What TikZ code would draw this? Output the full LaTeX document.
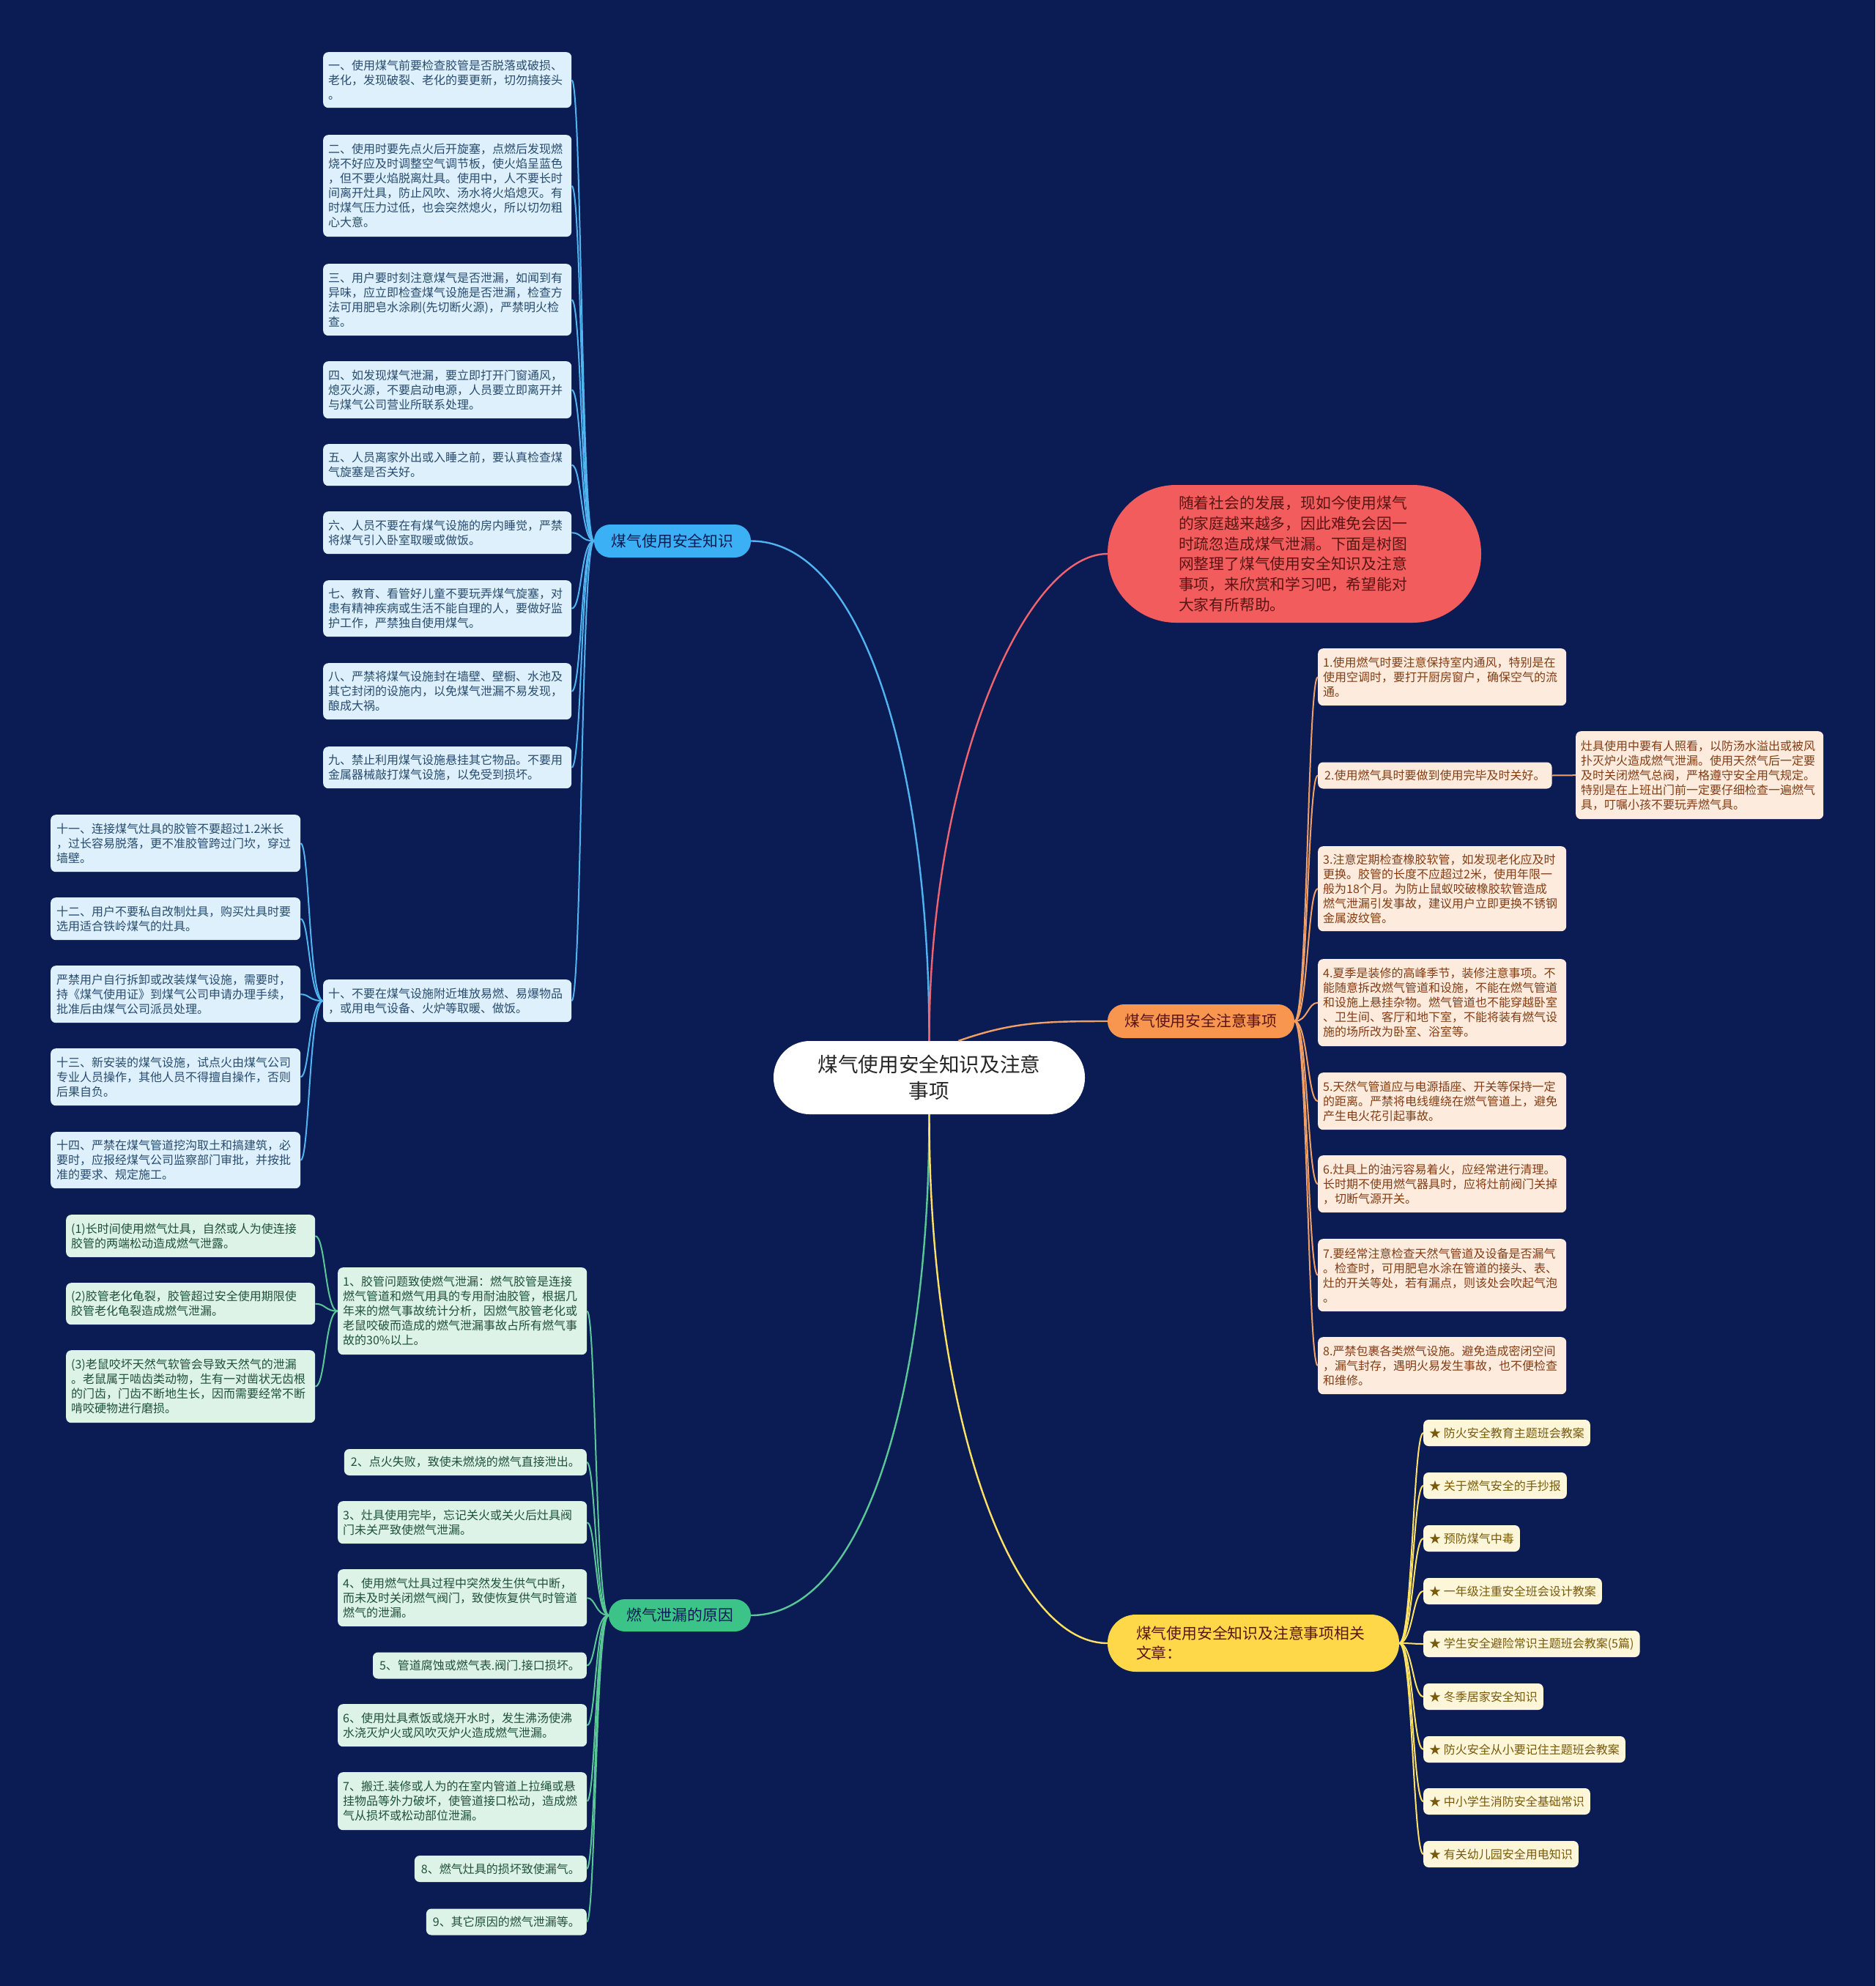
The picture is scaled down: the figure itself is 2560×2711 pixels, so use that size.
\documentclass[tikz,border=0pt]{standalone}
\usepackage{fontspec}
\newfontfamily\cjk{Noto Sans CJK SC}
\newcommand\leaffont{\cjk\fontsize{16}{20}\selectfont}
\newcommand\branchfont{\cjk\fontsize{20.8}{27.7}\selectfont}
\newcommand\centerfont{\cjk\fontsize{27.6}{36}\selectfont}
\definecolor{bgc}{RGB}{11,28,84}
\definecolor{bpill}{RGB}{60,176,245}
\definecolor{bline}{RGB}{80,180,240}
\definecolor{bfill}{RGB}{221,240,252}
\definecolor{btext}{RGB}{40,75,110}
\definecolor{rpill}{RGB}{242,92,92}
\definecolor{rline}{RGB}{240,100,110}
\definecolor{rtext}{RGB}{90,20,20}
\definecolor{opill}{RGB}{248,150,80}
\definecolor{oline}{RGB}{240,160,100}
\definecolor{ofill}{RGB}{253,236,222}
\definecolor{otext}{RGB}{130,60,20}
\definecolor{ypill}{RGB}{255,216,74}
\definecolor{yline}{RGB}{255,225,100}
\definecolor{yfill}{RGB}{253,246,216}
\definecolor{ytext}{RGB}{120,90,10}
\definecolor{gpill}{RGB}{60,196,136}
\definecolor{gline}{RGB}{90,200,150}
\definecolor{gfill}{RGB}{222,243,232}
\definecolor{gtext}{RGB}{30,80,60}
\tikzset{
  leafbase/.style={rectangle, rounded corners=7pt, inner ysep=0pt, align=left, font=\leaffont},
  multi/.style={anchor=north west, text width=325pt, inner xsep=7pt},
  single/.style={inner xsep=9pt, minimum height=36pt},
  bleaf/.style={leafbase, fill=bfill, text=btext},
  oleaf/.style={leafbase, fill=ofill, text=otext},
  gleaf/.style={leafbase, fill=gfill, text=gtext},
  yleaf/.style={leafbase, fill=yfill, text=ytext, single, anchor=west, inner xsep=8pt},
  pill/.style={rectangle, inner sep=0pt, font=\branchfont, align=center},
  blink/.style={draw=bline, line width=2pt},
  rlink/.style={draw=rline, line width=2.4pt},
  olink/.style={draw=oline, line width=2pt},
  ylink/.style={draw=yline, line width=2pt},
  glink/.style={draw=gline, line width=2pt},
}
\begin{document}
\begin{tikzpicture}[x=1pt,y=-1pt]
\useasboundingbox (0,0) rectangle (2560,2711);
\fill[bgc] (0,0) rectangle (2560,2711);

% ---------- center ----------
\node[rectangle, fill=white, rounded corners=49.5pt, minimum width=425pt, minimum height=100pt, inner sep=0pt, font=\centerfont, text=black!85, align=center] (C) at (1268.5,1471) {煤气使用安全知识及注意\\事项};

% ---------- branches ----------
\node[pill, fill=bpill, text=bgc, rounded corners=22pt, minimum width=214pt, minimum height=45pt] (B) at (918,738.5) {煤气使用安全知识};
\node[pill, fill=rpill, text=rtext, rounded corners=93.5pt, minimum width=510pt, minimum height=188pt, align=left, text width=316pt, inner xsep=97pt] (R) at (1767,756) {随着社会的发展，现如今使用煤气\\的家庭越来越多，因此难免会因一\\时疏忽造成煤气泄漏。下面是树图\\网整理了煤气使用安全知识及注意\\事项，来欣赏和学习吧，希望能对\\大家有所帮助。};
\node[pill, fill=opill, text=rtext, rounded corners=22.5pt, minimum width=255pt, minimum height=46pt] (O) at (1639.5,1394) {煤气使用安全注意事项};
\node[pill, fill=ypill, text=rtext, rounded corners=38.5pt, minimum height=78pt, align=left, text width=320pt, inner xsep=39pt] (Y) at (1711,2243) {煤气使用安全知识及注意事项相关\\文章：};
\node[pill, fill=gpill, text=bgc, rounded corners=22pt, minimum width=194pt, minimum height=44pt] (G) at (928,2205) {燃气泄漏的原因};

% ---------- blue leaves ----------
\node[bleaf, multi, minimum height=76pt] (L1) at (441,71) {一、使用煤气前要检查胶管是否脱落或破损、\\老化，发现破裂、老化的要更新，切勿搞接头\\。};
\node[bleaf, multi, minimum height=139pt] (L2) at (441,184) {二、使用时要先点火后开旋塞，点燃后发现燃\\烧不好应及时调整空气调节板，使火焰呈蓝色\\，但不要火焰脱离灶具。使用中，人不要长时\\间离开灶具，防止风吹、汤水将火焰熄灭。有\\时煤气压力过低，也会突然熄火，所以切勿粗\\心大意。};
\node[bleaf, multi, minimum height=98pt] (L3) at (441,360) {三、用户要时刻注意煤气是否泄漏，如闻到有\\异味，应立即检查煤气设施是否泄漏，检查方\\法可用肥皂水涂刷(先切断火源)，严禁明火检\\查。};
\node[bleaf, multi, minimum height=78pt] (L4) at (441,493) {四、如发现煤气泄漏，要立即打开门窗通风，\\熄灭火源，不要启动电源，人员要立即离开并\\与煤气公司营业所联系处理。};
\node[bleaf, multi, minimum height=57pt] (L5) at (441,606) {五、人员离家外出或入睡之前，要认真检查煤\\气旋塞是否关好。};
\node[bleaf, multi, minimum height=58pt] (L6) at (441,698) {六、人员不要在有煤气设施的房内睡觉，严禁\\将煤气引入卧室取暖或做饭。};
\node[bleaf, multi, minimum height=77pt] (L7) at (441,792) {七、教育、看管好儿童不要玩弄煤气旋塞，对\\患有精神疾病或生活不能自理的人，要做好监\\护工作，严禁独自使用煤气。};
\node[bleaf, multi, minimum height=77pt] (L8) at (441,905) {八、严禁将煤气设施封在墙壁、壁橱、水池及\\其它封闭的设施内，以免煤气泄漏不易发现，\\酿成大祸。};
\node[bleaf, multi, minimum height=57pt] (L9) at (441,1019) {九、禁止利用煤气设施悬挂其它物品。不要用\\金属器械敲打煤气设施，以免受到损坏。};
\node[bleaf, multi, minimum height=58pt] (L10) at (441,1337) {十、不要在煤气设施附近堆放易燃、易爆物品\\，或用电气设备、火炉等取暖、做饭。};

% ---------- far-left blue leaves ----------
\node[bleaf, multi, inner xsep=8pt, minimum height=78pt] (C1) at (69,1112) {十一、连接煤气灶具的胶管不要超过1.2米长\\，过长容易脱落，更不准胶管跨过门坎，穿过\\墙壁。};
\node[bleaf, multi, inner xsep=8pt, minimum height=58pt] (C2) at (69,1225) {十二、用户不要私自改制灶具，购买灶具时要\\选用适合铁岭煤气的灶具。};
\node[bleaf, multi, inner xsep=8pt, minimum height=78pt] (C3) at (69,1318) {严禁用户自行拆卸或改装煤气设施，需要时，\\持《煤气使用证》到煤气公司申请办理手续，\\批准后由煤气公司派员处理。};
\node[bleaf, multi, inner xsep=8pt, minimum height=78pt] (C4) at (69,1431) {十三、新安装的煤气设施，试点火由煤气公司\\专业人员操作，其他人员不得擅自操作，否则\\后果自负。};
\node[bleaf, multi, inner xsep=8pt, minimum height=77pt] (C5) at (69,1545) {十四、严禁在煤气管道挖沟取土和搞建筑，必\\要时，应报经煤气公司监察部门审批，并按批\\准的要求、规定施工。};

% ---------- green leaves ----------
\node[gleaf, multi, minimum height=119pt, text width=326pt] (G1) at (461,1730) {1、胶管问题致使燃气泄漏：燃气胶管是连接\\燃气管道和燃气用具的专用耐油胶管，根据几\\年来的燃气事故统计分析，因燃气胶管老化或\\老鼠咬破而造成的燃气泄漏事故占所有燃气事\\故的30\%以上。};
\node[gleaf, multi, minimum height=58pt, text width=326pt] (S1) at (90,1658) {(1)长时间使用燃气灶具，自然或人为使连接\\胶管的两端松动造成燃气泄露。};
\node[gleaf, multi, minimum height=57pt, text width=326pt] (S2) at (90,1751) {(2)胶管老化龟裂，胶管超过安全使用期限使\\胶管老化龟裂造成燃气泄漏。};
\node[gleaf, multi, minimum height=99pt, text width=326pt] (S3) at (90,1843) {(3)老鼠咬坏天然气软管会导致天然气的泄漏\\。老鼠属于啮齿类动物，生有一对凿状无齿根\\的门齿，门齿不断地生长，因而需要经常不断\\啃咬硬物进行磨损。};
\node[gleaf, single, anchor=east] (G2) at (801,1996) {2、点火失败，致使未燃烧的燃气直接泄出。};
\node[gleaf, multi, minimum height=58pt, text width=326pt] (G3) at (461,2049) {3、灶具使用完毕，忘记关火或关火后灶具阀\\门未关严致使燃气泄漏。};
\node[gleaf, multi, minimum height=78pt, text width=326pt] (G4) at (461,2142) {4、使用燃气灶具过程中突然发生供气中断，\\而未及时关闭燃气阀门，致使恢复供气时管道\\燃气的泄漏。};
\node[gleaf, single, anchor=east] (G5) at (801,2273.5) {5、管道腐蚀或燃气表.阀门.接口损坏。};
\node[gleaf, multi, minimum height=58pt, text width=326pt] (G6) at (461,2326) {6、使用灶具煮饭或烧开水时，发生沸汤使沸\\水浇灭炉火或风吹灭炉火造成燃气泄漏。};
\node[gleaf, multi, minimum height=79pt, text width=326pt] (G7) at (461,2419) {7、搬迁.装修或人为的在室内管道上拉绳或悬\\挂物品等外力破坏，使管道接口松动，造成燃\\气从损坏或松动部位泄漏。};
\node[gleaf, single, anchor=east] (G8) at (801,2551) {8、燃气灶具的损坏致使漏气。};
\node[gleaf, single, anchor=east] (G9) at (801,2623.5) {9、其它原因的燃气泄漏等。};

% ---------- orange leaves ----------
\node[oleaf, multi, minimum height=78pt] (O1) at (1799,885) {1.使用燃气时要注意保持室内通风，特别是在\\使用空调时，要打开厨房窗户，确保空气的流\\通。};
\node[oleaf, single, anchor=west] (O2) at (1799,1058.5) {2.使用燃气具时要做到使用完毕及时关好。};
\node[oleaf, multi, minimum height=120pt, text width=324pt] (O2c) at (2151,998) {灶具使用中要有人照看，以防汤水溢出或被风\\扑灭炉火造成燃气泄漏。使用天然气后一定要\\及时关闭燃气总阀，严格遵守安全用气规定。\\特别是在上班出门前一定要仔细检查一遍燃气\\具，叮嘱小孩不要玩弄燃气具。};
\node[oleaf, multi, minimum height=116pt] (O3) at (1799,1155) {3.注意定期检查橡胶软管，如发现老化应及时\\更换。胶管的长度不应超过2米，使用年限一\\般为18个月。为防止鼠蚁咬破橡胶软管造成\\燃气泄漏引发事故，建议用户立即更换不锈钢\\金属波纹管。};
\node[oleaf, multi, minimum height=119pt] (O4) at (1799,1309) {4.夏季是装修的高峰季节，装修注意事项。不\\能随意拆改燃气管道和设施，不能在燃气管道\\和设施上悬挂杂物。燃气管道也不能穿越卧室\\、卫生间、客厅和地下室，不能将装有燃气设\\施的场所改为卧室、浴室等。};
\node[oleaf, multi, minimum height=78pt] (O5) at (1799,1464) {5.天然气管道应与电源插座、开关等保持一定\\的距离。严禁将电线缠绕在燃气管道上，避免\\产生电火花引起事故。};
\node[oleaf, multi, minimum height=78pt] (O6) at (1799,1577) {6.灶具上的油污容易着火，应经常进行清理。\\长时期不使用燃气器具时，应将灶前阀门关掉\\，切断气源开关。};
\node[oleaf, multi, minimum height=99pt] (O7) at (1799,1691) {7.要经常注意检查天然气管道及设备是否漏气\\。检查时，可用肥皂水涂在管道的接头、表、\\灶的开关等处，若有漏点，则该处会吹起气泡\\。};
\node[oleaf, multi, minimum height=78pt] (O8) at (1799,1825) {8.严禁包裹各类燃气设施。避免造成密闭空间\\，漏气封存，遇明火易发生事故，也不便检查\\和维修。};

% ---------- yellow leaves ----------
\node[yleaf] (Y1) at (1943,1956) {★ 防火安全教育主题班会教案};
\node[yleaf] (Y2) at (1943,2028) {★ 关于燃气安全的手抄报};
\node[yleaf] (Y3) at (1943,2100) {★ 预防煤气中毒};
\node[yleaf] (Y4) at (1943,2172) {★ 一年级注重安全班会设计教案};
\node[yleaf] (Y5) at (1943,2244) {★ 学生安全避险常识主题班会教案(5篇)};
\node[yleaf] (Y6) at (1943,2316) {★ 冬季居家安全知识};
\node[yleaf] (Y7) at (1943,2388) {★ 防火安全从小要记住主题班会教案};
\node[yleaf] (Y8) at (1943,2459) {★ 中小学生消防安全基础常识};
\node[yleaf] (Y9) at (1943,2531) {★ 有关幼儿园安全用电知识};

% ---------- main connectors ----------
\begin{scope}[on background layer/.style={}]
\draw[blink, line width=2.4pt] (B.east) .. controls (1180,738.5) and (1268.5,1050) .. (C.north);
\draw[rlink] (C.north) .. controls (1268.5,1050) and (1400,756) .. (R.west);
\draw[olink, line width=2.4pt] ([xshift=40pt]C.north) .. controls (1380,1396) and (1420,1394) .. (O.west);
\draw[glink, line width=2.4pt] (C.south) .. controls (1268.5,1900) and (1180,2205) .. (G.east);
\draw[ylink, line width=2.4pt] (C.south) .. controls (1268.5,1930) and (1380,2243) .. (Y.west);
\end{scope}

% ---------- leaf connectors ----------
\foreach \n in {L1,L2,L3,L4,L5,L6,L7,L8,L9,L10}
  \draw[blink] (B.west) .. controls +(-18,0) and +(14,0) .. (\n.east);
\foreach \n in {C1,C2,C3,C4,C5}
  \draw[blink] (L10.west) .. controls +(-19,0) and +(12,0) .. (\n.east);
\foreach \n in {G1,G2,G3,G4,G5,G6,G7,G8,G9}
  \draw[glink] (G.west) .. controls +(-18,0) and +(12,0) .. (\n.east);
\foreach \n in {S1,S2,S3}
  \draw[glink] (G1.west) .. controls +(-17,0) and +(14,0) .. (\n.east);
\foreach \n in {O1,O2,O3,O4,O5,O6,O7,O8}
  \draw[olink] (O.east) .. controls +(18,0) and +(-14,0) .. (\n.west);
\draw[olink] (O2.east) -- (O2c.west);
\foreach \n in {Y1,Y2,Y3,Y4,Y5,Y6,Y7,Y8,Y9}
  \draw[ylink] (Y.east) .. controls +(18,0) and +(-14,0) .. (\n.west);
\end{tikzpicture}
\end{document}
